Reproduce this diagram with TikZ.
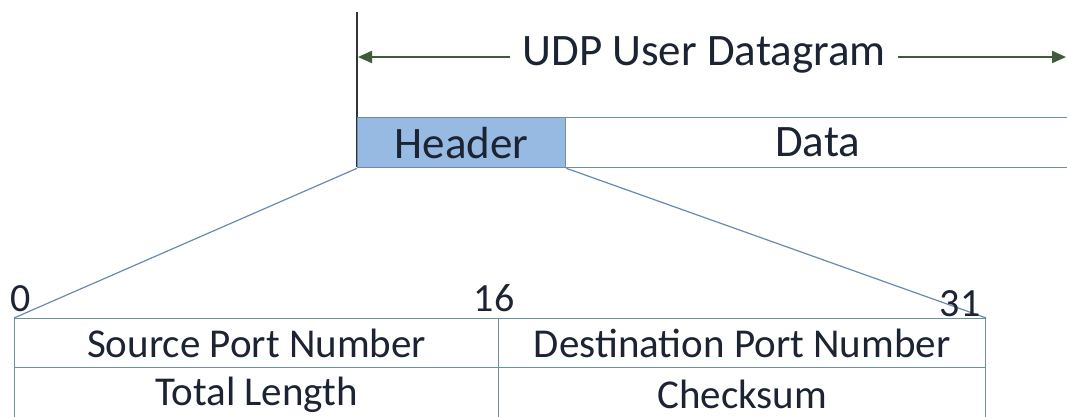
\documentclass[tikz,border=0pt]{standalone}
\usepackage{fontspec}
\setmainfont{Carlito}
\usetikzlibrary{arrows.meta}
\definecolor{arrgreen}{HTML}{3E5C3A}
\definecolor{hdrfill}{HTML}{97BAE2}
\definecolor{hdredge}{HTML}{6A8AAE}
\definecolor{tbledge}{HTML}{6E9397}
\definecolor{txt}{HTML}{1C2433}
\tikzset{
  big/.style={font=\fontsize{45}{50}\selectfont, text=txt},
  cell/.style={font=\fontsize{41}{46}\selectfont, text=txt},
  num/.style={font=\fontsize{40}{46}\selectfont, text=txt},
  boxline/.style={draw=tbledge, line width=1.3pt},
  fan/.style={draw=hdredge, line width=1.2pt},
  dim/.style={draw=arrgreen, line width=2pt, -{Triangle[length=14pt,width=12pt]}},
}
\begin{document}
\begin{tikzpicture}[x=1pt,y=-1pt]
\useasboundingbox[fill=white] (0,0) rectangle (1067,417);
% vertical marker
\draw[draw=black!80, line width=1.4pt] (357,12) -- (357,167);
% dimension arrow
\coordinate (L) at (358,57);
\coordinate (R) at (1066,57);
\node[big, inner xsep=12pt] (T) at (704,55) {UDP User Datagram};
\draw[dim] (T.west |- L) -- (L);
\draw[dim] (T.east |- R) -- (R);
% header / data
\node[big, draw=hdredge, line width=1.3pt, fill=hdrfill, minimum width=208pt, minimum height=50pt, anchor=north west, inner sep=0pt] (H) at (357,117) {Header};
\node[big, draw=tbledge, line width=1.3pt, minimum width=504pt, minimum height=50pt, anchor=north west, inner sep=0pt] (D) at (565,117) {Data};
% table
\node[cell, boxline, minimum width=484pt, minimum height=49pt, anchor=north west, inner sep=0pt] (SP) at (14,318) {Source Port Number};
\node[cell, boxline, minimum width=487pt, minimum height=49pt, anchor=north west, inner sep=0pt] (DP) at (498,318) {Destination Port Number};
\node[cell, boxline, minimum width=484pt, minimum height=54pt, anchor=north west, inner sep=0pt] (TL) at (14,367) {Total Length};
\node[cell, boxline, minimum width=487pt, minimum height=54pt, anchor=north west, inner sep=0pt] (CK) at (498,367) {Checksum};
% fan lines
\draw[fan] (H.south west) -- (SP.north west);
\draw[fan] (H.south east) -- (DP.north east);
% bit numbers
\node[num, inner sep=0pt] (n0) at (21,299) {0};
\node[num, inner sep=0pt] (n16) at (494,298) {16};
\node[num, inner sep=0pt] (n31) at (960,304) {31};
\end{tikzpicture}
\end{document}
